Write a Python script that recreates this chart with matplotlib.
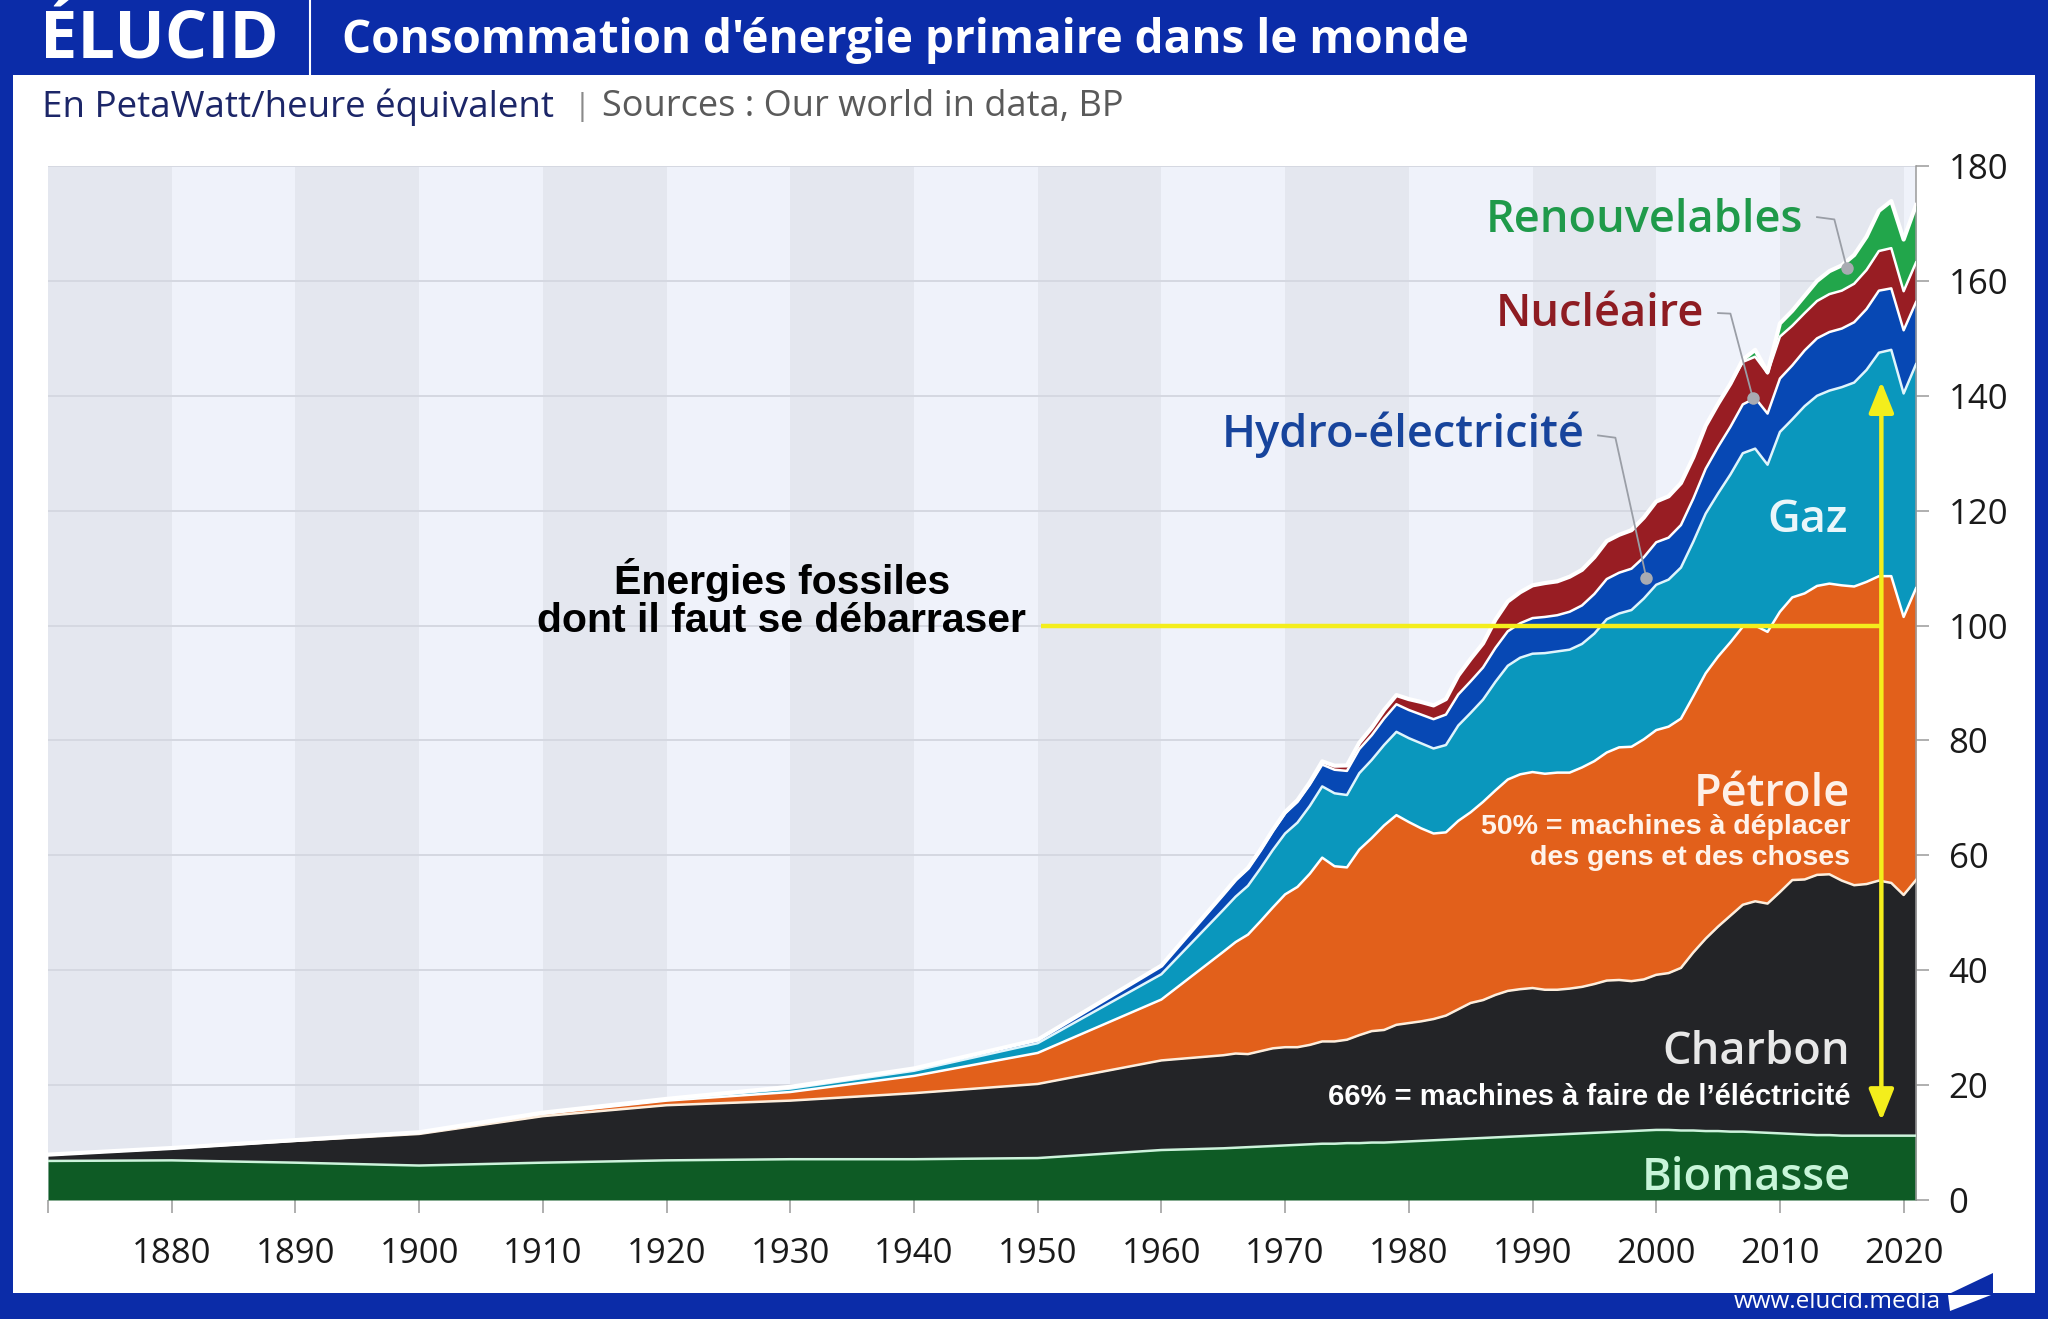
import numpy as np
import matplotlib
matplotlib.use("Agg")
import matplotlib.pyplot as plt
from matplotlib.patches import Rectangle, Polygon
from matplotlib.lines import Line2D

plt.rcParams['font.family'] = ['Open Sans', 'DejaVu Sans']

# ---- data (PWh), decadal until 1960 then yearly ----
years = [1870, 1880, 1890, 1900, 1910, 1920, 1930, 1940, 1950, 1960,
         1965, 1966, 1967, 1968, 1969,
         1970, 1971, 1972, 1973, 1974, 1975, 1976, 1977, 1978, 1979,
         1980, 1981, 1982, 1983, 1984, 1985, 1986, 1987, 1988, 1989,
         1990, 1991, 1992, 1993, 1994, 1995, 1996, 1997, 1998, 1999,
         2000, 2001, 2002, 2003, 2004, 2005, 2006, 2007, 2008, 2009,
         2010, 2011, 2012, 2013, 2014, 2015, 2016, 2017, 2018, 2019,
         2020, 2021]

biomasse = [6.8, 6.9, 6.5, 6.0, 6.5, 6.9, 7.1, 7.1, 7.3, 8.7,
            9.0, 9.1, 9.2, 9.3, 9.4,
            9.5, 9.6, 9.7, 9.8, 9.8, 9.9, 9.9, 10.0, 10.0, 10.1,
            10.2, 10.3, 10.4, 10.5, 10.6, 10.7, 10.8, 10.9, 11.0, 11.1,
            11.2, 11.3, 11.4, 11.5, 11.6, 11.7, 11.8, 11.9, 12.0, 12.1,
            12.2, 12.2, 12.1, 12.1, 12.0, 12.0, 11.9, 11.9, 11.8, 11.7,
            11.6, 11.5, 11.4, 11.3, 11.3, 11.2, 11.2, 11.2, 11.2, 11.2,
            11.2, 11.2]

charbon = [1.1, 2.1, 3.8, 5.5, 8.1, 9.6, 10.2, 11.5, 12.9, 15.6,
           16.2, 16.4, 16.2, 16.6, 17.0,
           17.1, 17.0, 17.3, 17.8, 17.8, 18.0, 18.8, 19.4, 19.6, 20.4,
           20.6, 20.8, 21.1, 21.6, 22.6, 23.6, 24.0, 24.8, 25.4, 25.6,
           25.7, 25.3, 25.2, 25.3, 25.5, 25.9, 26.4, 26.4, 26.1, 26.3,
           27.0, 27.3, 28.3, 31.0, 33.5, 35.6, 37.6, 39.5, 40.2, 39.9,
           42.0, 44.2, 44.4, 45.3, 45.4, 44.4, 43.6, 43.8, 44.4, 44.0,
           41.9, 44.5]

petrole = [0.0, 0.05, 0.1, 0.2, 0.4, 0.8, 1.5, 3.0, 5.4, 10.6,
           18.0, 19.4, 20.8, 22.6, 24.5,
           26.6, 27.9, 29.8, 32.0, 30.5, 30.0, 32.3, 33.6, 35.6, 36.5,
           35.0, 33.6, 32.3, 31.9, 32.8, 33.2, 34.5, 35.6, 36.8, 37.4,
           37.6, 37.6, 37.8, 37.6, 38.2, 38.8, 39.7, 40.5, 40.8, 41.8,
           42.6, 42.9, 43.4, 44.6, 46.2, 47.0, 47.6, 48.4, 48.0, 47.3,
           48.8, 49.2, 49.8, 50.3, 50.6, 51.4, 52.0, 52.6, 53.0, 53.4,
           48.4, 50.8]

gaz = [0.0, 0.0, 0.03, 0.07, 0.15, 0.2, 0.6, 0.9, 1.7, 4.4,
       7.3, 7.9, 8.5, 9.2, 10.0,
       10.6, 11.2, 11.8, 12.4, 12.7, 12.6, 13.3, 13.6, 14.0, 14.5,
       14.6, 14.8, 14.8, 15.2, 16.6, 17.3, 17.8, 18.9, 19.8, 20.3,
       20.6, 21.0, 21.1, 21.4, 21.5, 22.2, 23.2, 23.3, 23.8, 24.5,
       25.3, 25.6, 26.3, 26.9, 27.8, 28.4, 29.2, 30.2, 30.8, 29.1,
       31.3, 31.0, 32.6, 33.1, 33.6, 34.5, 35.5, 36.9, 38.9, 39.4,
       38.9, 39.0]

hydro = [0.0, 0.0, 0.0, 0.02, 0.05, 0.1, 0.3, 0.4, 0.6, 1.5,
         2.7, 2.9, 3.0, 3.1, 3.3,
         3.5, 3.6, 3.7, 3.8, 4.1, 4.2, 4.2, 4.3, 4.6, 4.8,
         4.9, 5.0, 5.1, 5.3, 5.4, 5.5, 5.6, 5.9, 6.0, 6.0,
         6.2, 6.3, 6.3, 6.6, 6.7, 6.9, 7.0, 7.1, 7.2, 7.2,
         7.4, 7.3, 7.4, 7.5, 7.8, 8.1, 8.3, 8.5, 8.8, 8.9,
         9.3, 9.4, 9.7, 10.0, 10.2, 10.2, 10.5, 10.6, 10.8, 10.7,
         11.0, 10.8]

nucleaire = [0.0, 0.0, 0.0, 0.0, 0.0, 0.0, 0.0, 0.0, 0.0, 0.0,
             0.07, 0.1, 0.1, 0.15, 0.18,
             0.23, 0.3, 0.4, 0.55, 0.7, 0.95, 1.1, 1.3, 1.5, 1.6,
             1.9, 2.2, 2.4, 2.7, 3.3, 3.9, 4.2, 4.9, 5.2, 5.4,
             5.7, 5.9, 5.9, 6.1, 6.2, 6.4, 6.6, 6.6, 6.7, 6.9,
             7.1, 7.2, 7.3, 7.2, 7.5, 7.5, 7.5, 7.4, 7.2, 7.0,
             7.3, 6.9, 6.5, 6.5, 6.6, 6.6, 6.7, 6.8, 6.9, 7.0,
             6.8, 6.9]

renouvelables = [0.0, 0.0, 0.0, 0.0, 0.0, 0.0, 0.0, 0.0, 0.0, 0.0,
                 0.0, 0.0, 0.0, 0.0, 0.0,
                 0.0, 0.0, 0.0, 0.0, 0.0, 0.0, 0.0, 0.0, 0.0, 0.0,
                 0.0, 0.0, 0.0, 0.0, 0.0, 0.0, 0.0, 0.0, 0.0, 0.0,
                 0.0, 0.0, 0.0, 0.0, 0.0, 0.0, 0.0, 0.0, 0.0, 0.0,
                 0.0, 0.0, 0.0, 0.0, 0.0, 0.0, 0.0, 0.4, 1.2, 0.2,
                 2.3, 2.6, 3.0, 3.5, 4.0, 4.4, 5.0, 5.8, 7.0, 8.2,
                 9.0, 10.0]

series = [biomasse, charbon, petrole, gaz, hydro, nucleaire, renouvelables]
fill_colors = ['#0e5b25', '#232427', '#e2601b', '#0a97bd', '#0748b4', '#981d23', '#22a64b']
edge_colors = ['#cdf3dc', '#fdeedd', '#ffffff', '#dff5fc', '#ffffff', '#ffffff', '#ffffff']

y_ticks = [0, 20, 40, 60, 80, 100, 120, 140, 160, 180]
x_ticks = [1870, 1880, 1890, 1900, 1910, 1920, 1930, 1940, 1950, 1960,
           1970, 1980, 1990, 2000, 2010, 2020]
x_tick_labels = ['', '1880', '1890', '1900', '1910', '1920', '1930', '1940', '1950',
                 '1960', '1970', '1980', '1990', '2000', '2010', '2020']

BLUE = '#0b2ca8'
YELLOW = '#f4ee1c'
W, H = 2048, 1319


def fx(x):
    return x / W


def fy(y):
    return 1 - y / H


fig = plt.figure(figsize=(W / 100, H / 100), dpi=100)
fig.patch.set_facecolor(BLUE)

# white panel + header
fig.patches.append(Rectangle((fx(13), fy(1293)), fx(2035 - 13), (1293 - 75) / H,
                             transform=fig.transFigure, facecolor='white',
                             edgecolor='none', zorder=-5))
fig.lines.append(Line2D([fx(310), fx(310)], [fy(0), fy(75)], transform=fig.transFigure,
                        color='white', lw=1.5))
fig.text(fx(40), fy(40), 'ÉLUCID', color='white', fontsize=48, weight='bold',
         va='center', ha='left')
fig.text(fx(342), fy(40), "Consommation d'énergie primaire dans le monde", color='white',
         fontsize=33, weight='bold', va='center', ha='left')
fig.text(fx(42), fy(107), 'En PetaWatt/heure équivalent', color='#1c2668',
         fontsize=26.5, va='center', ha='left')
fig.text(fx(574), fy(107), '|', color='#8a8a8a', fontsize=22, va='center', ha='left')
fig.text(fx(602), fy(107), 'Sources : Our world in data, BP', color='#5a5a5a',
         fontsize=26, va='center', ha='left')

# footer
fig.text(fx(1941), fy(1302), 'www.elucid.media', color='white', fontsize=17.5,
         va='center', ha='right')
fig.patches.append(Polygon([(fx(1951), fy(1293)), (fx(1993), fy(1273)), (fx(1993), fy(1293))],
                           closed=True, transform=fig.transFigure, facecolor=BLUE,
                           edgecolor='none'))
fig.patches.append(Polygon([(fx(1948), fy(1295)), (fx(1991), fy(1295)), (fx(1950), fy(1311))],
                           closed=True, transform=fig.transFigure, facecolor='white',
                           edgecolor='none'))

# ---- chart ----
ax = fig.add_axes([fx(48), fy(1200), fx(1916 - 48), (1200 - 166) / H])
ax.set_xlim(1870, 2021)
ax.set_ylim(0, 180)
ax.set_facecolor('#eef1f9')

# decade stripes
for i, start in enumerate(range(1870, 2021, 10)):
    c = '#e4e7ef' if i % 2 == 0 else '#eff2fa'
    ax.axvspan(start, min(start + 10, 2021), color=c, lw=0, zorder=0)
for v in y_ticks[1:]:
    ax.axhline(v, color='#d5d8e1', lw=1.4, zorder=0.5)

data = np.array(series)
tops = np.cumsum(data, axis=0)
bottom = np.zeros(len(years))
for k in range(len(series)):
    ax.fill_between(years, bottom, tops[k], color=fill_colors[k], lw=0, zorder=2)
    bottom = tops[k]
for k in range(len(series)):
    lw = 3.0 if k == len(series) - 1 else 1.8
    ax.plot(years, tops[k], color=edge_colors[k], lw=lw, zorder=3, solid_joinstyle='round')

# axes styling
ax.yaxis.tick_right()
ax.set_yticks(y_ticks)
ax.set_xticks(x_ticks)
ax.set_xticklabels(x_tick_labels)
ax.tick_params(axis='both', length=9.5, width=1.1, color='#9a9a9a', labelsize=25,
               labelcolor='#1a1a1a', pad=14)
ax.tick_params(axis='x', pad=17)
for s in ['left', 'top', 'bottom']:
    ax.spines[s].set_visible(False)
ax.spines['right'].set_color('#9a9a9a')
ax.spines['right'].set_linewidth(1.1)

# series labels
lbl = dict(fontsize=32.5, weight='semibold', zorder=6)
ax.text(2011.9, 170.5, 'Renouvelables', ha='right', va='center', color='#1f9a4a', **lbl)
ax.text(2003.9, 154.1, 'Nucléaire', ha='right', va='center', color='#8e1c22', **lbl)
ax.text(1994.2, 133.2, 'Hydro-électricité', ha='right', va='center', color='#17449c', **lbl)
ax.text(2012.2, 118.3, 'Gaz', ha='center', va='center', color='#eaf6fa', **lbl)
ax.text(2015.7, 70.6, 'Pétrole', ha='right', va='center', color='#fdf0e8', **lbl)
ax.text(2015.7, 25.6, 'Charbon', ha='right', va='center', color='#e8e8e8', **lbl)
ax.text(2015.7, 3.8, 'Biomasse', ha='right', va='center', color='#c8f5d9', **lbl)

# leader lines
leaders = [([2013.0, 2014.4, 2015.4], [171.1, 170.7, 162.3]),
           ([2005.0, 2006.0, 2007.8], [154.4, 154.3, 139.7]),
           ([1995.3, 1996.7, 1999.2], [133.1, 132.7, 108.3])]
for lx, ly in leaders:
    ax.plot(lx, ly, color='#9a9ea6', lw=1.3, zorder=5)
    ax.plot(lx[-1], ly[-1], 'o', ms=9, color='#a8abb2', mec='none', zorder=5)

# annotations
note = dict(family=['Liberation Sans', 'DejaVu Sans'], weight='bold', zorder=6)
ax.text(2015.7, 64.9, '50% = machines à déplacer', ha='right', va='center',
        color='#fff3ea', fontsize=20.5, **note)
ax.text(2015.7, 59.5, 'des gens et des choses', ha='right', va='center',
        color='#fff3ea', fontsize=20.5, **note)
ax.text(2015.7, 17.9, '66% = machines à faire de l\u2019éléctricité', ha='right',
        va='center', color='white', fontsize=21, **note)
ax.text(1929.3, 108.0, 'Énergies fossiles', ha='center', va='center', color='black',
        fontsize=29.5, **note)
ax.text(1929.3, 100.8, 'dont il faut se débarraser', ha='center', va='center',
        color='black', fontsize=29.5, **note)

# yellow bracket
ax.plot([1950.3, 2018.2], [100, 100], color=YELLOW, lw=3.2, zorder=7,
        solid_capstyle='butt')
ax.annotate('', xy=(2018.2, 142.5), xytext=(2018.2, 13.8), zorder=7,
            arrowprops=dict(arrowstyle='<|-|>,head_length=0.95,head_width=0.38',
                            color=YELLOW, lw=3.2, mutation_scale=20,
                            shrinkA=0, shrinkB=0))

fig.savefig('out.png', dpi=100, facecolor=fig.get_facecolor())
